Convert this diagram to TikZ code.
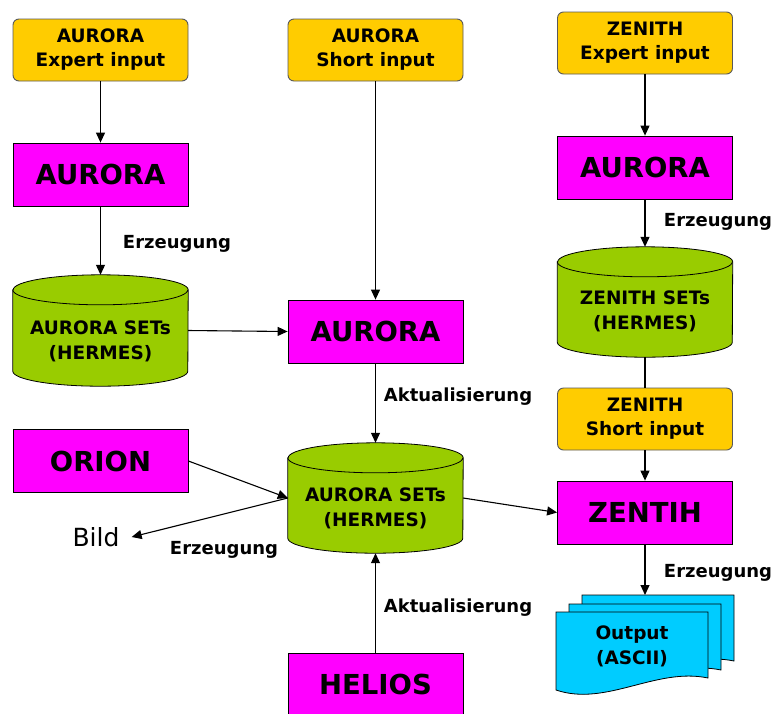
\documentclass[tikz,border=0pt]{standalone}
\usepackage{fontspec}
\setmainfont{DejaVu Sans}
\usetikzlibrary{arrows.meta}
\definecolor{inorange}{RGB}{255,204,0}
\definecolor{avmagenta}{RGB}{255,0,255}
\definecolor{setgreen}{RGB}{153,204,0}
\definecolor{outcyan}{RGB}{0,204,255}
\newcommand{\mycyl}[1]{%
  \path[cylshape] ([yshift=-15pt]#1.north west) -- ([yshift=15pt]#1.south west)
    arc[start angle=180,end angle=360,x radius=87.5pt,y radius=15pt]
    -- ([yshift=-15pt]#1.north east)
    arc[start angle=0,end angle=180,x radius=87.5pt,y radius=15pt] -- cycle;
  \draw[cyledge] ([yshift=-15pt]#1.north west)
    arc[start angle=180,end angle=360,x radius=87.5pt,y radius=15pt];}
\begin{document}
\begin{tikzpicture}[x=1pt,y=-1pt,
  inbox/.style={draw=black!65, fill=inorange, rounded corners=6pt, line width=0.9pt,
    minimum width=175pt, minimum height=62pt, align=center, inner sep=0pt,
    font=\fontsize{18.5}{24}\selectfont\bfseries},
  magbox/.style={draw=black, fill=avmagenta, line width=0.8pt,
    minimum width=175pt, minimum height=63pt, inner sep=0pt,
    font=\fontsize{27.5}{30}\selectfont\bfseries},
  cylbody/.style={minimum width=175pt, inner sep=0pt},
  cylshape/.style={fill=setgreen, draw=black, line width=0.8pt},
  cyledge/.style={draw=black, line width=0.8pt},
  cyltext/.style={align=center, inner sep=0pt, font=\fontsize{18.5}{25}\selectfont\bfseries},
  sheet/.style={fill=outcyan, draw=black, line width=0.8pt},
  lbl/.style={inner sep=0pt, font=\fontsize{18}{20}\selectfont\bfseries},
  conn/.style={line width=1.1pt, -{Triangle[length=10pt,width=9pt]}},
  plainconn/.style={line width=1.1pt},
]
\useasboundingbox (0,0) rectangle (778,713);
\fill[white] (0,0) rectangle (778,713);

% input boxes
\node[inbox] (ain)  at (100.5,50)  {AURORA\\Expert input};
\node[inbox] (sin)  at (375.5,50)  {AURORA\\Short input};
\node[inbox] (zin)  at (645,43)    {ZENITH\\Expert input};
\node[inbox] (zsin) at (645,419)   {ZENITH\\Short input};

% magenta boxes
\node[magbox] (a1)     at (100.5,174.5) {AURORA};
\node[magbox] (a2)     at (375.5,331.5) {AURORA};
\node[magbox] (a3)     at (645,167.5)   {AURORA};
\node[magbox] (orion)  at (100.5,461)   {ORION};
\node[magbox] (zentih) at (645,512.5)   {ZENTIH};
\node[magbox] (helios) at (375.5,684.5) {HELIOS};

% cylinders
\node[cylbody, minimum height=111pt] (cylL) at (100.5,330.5) {};
\mycyl{cylL}
\node[cyltext] (tL) at (100.5,341) {AURORA SETs\\(HERMES)};
\node[cylbody, minimum height=110pt] (cylC) at (375.5,498) {};
\mycyl{cylC}
\node[cyltext] (tC) at (375.5,508) {AURORA SETs\\(HERMES)};
\node[cylbody, minimum height=110pt] (cylZ) at (645,302) {};
\mycyl{cylZ}
\node[cyltext] (tZ) at (645,311) {ZENITH SETs\\(HERMES)};

% output document stack
\begin{scope}[shift={(582,595)}]
  \draw[sheet] (0,0) -- (152,0) -- (152,66) .. controls (100,55) and (50,95) .. (0,78) -- cycle;
\end{scope}
\begin{scope}[shift={(569,604)}]
  \draw[sheet] (0,0) -- (152,0) -- (152,66) .. controls (100,55) and (50,95) .. (0,78) -- cycle;
\end{scope}
\begin{scope}[shift={(556,612)}]
  \draw[sheet] (0,0) -- (152,0) -- (152,66) .. controls (100,55) and (50,95) .. (0,78) -- cycle;
\end{scope}
\node[cyltext] (out) at (632,646) {Output\\(ASCII)};
\coordinate (outtop) at (645,595);

% Bild
\node[inner sep=0pt, inner xsep=12pt, font=\fontsize{25}{28}\selectfont] (bild) at (96,537) {Bild};

% labels
\node[lbl] (l1) at (177,244) {Erzeugung};
\node[lbl] (l2) at (458,397) {Aktualisierung};
\node[lbl] (l3) at (458,608) {Aktualisierung};
\node[lbl] (l4) at (718,222) {Erzeugung};
\node[lbl] (l5) at (718,573) {Erzeugung};
\node[lbl] (l6) at (224,550) {Erzeugung};

% connectors
\draw[conn] (ain.south) -- (a1.north);
\draw[conn] (a1.south) -- (cylL.north);
\draw[conn] (cylL.east) -- (a2.west);
\draw[conn] (sin.south) -- (a2.north);
\draw[conn] (a2.south) -- (cylC.north);
\draw[conn] (orion.east) -- (cylC.west);
\draw[conn] (cylC.west) -- (bild.east);
\draw[conn] (helios.north) -- (cylC.south);
\draw[conn] (cylC.east) -- (zentih.west);
\draw[conn] (zin.south) -- (a3.north);
\draw[conn] (a3.south) -- (cylZ.north);
\draw[plainconn] (cylZ.south) -- (zsin.north);
\draw[conn] (zsin.south) -- (zentih.north);
\draw[conn] (zentih.south) -- (outtop);
\end{tikzpicture}
\end{document}
